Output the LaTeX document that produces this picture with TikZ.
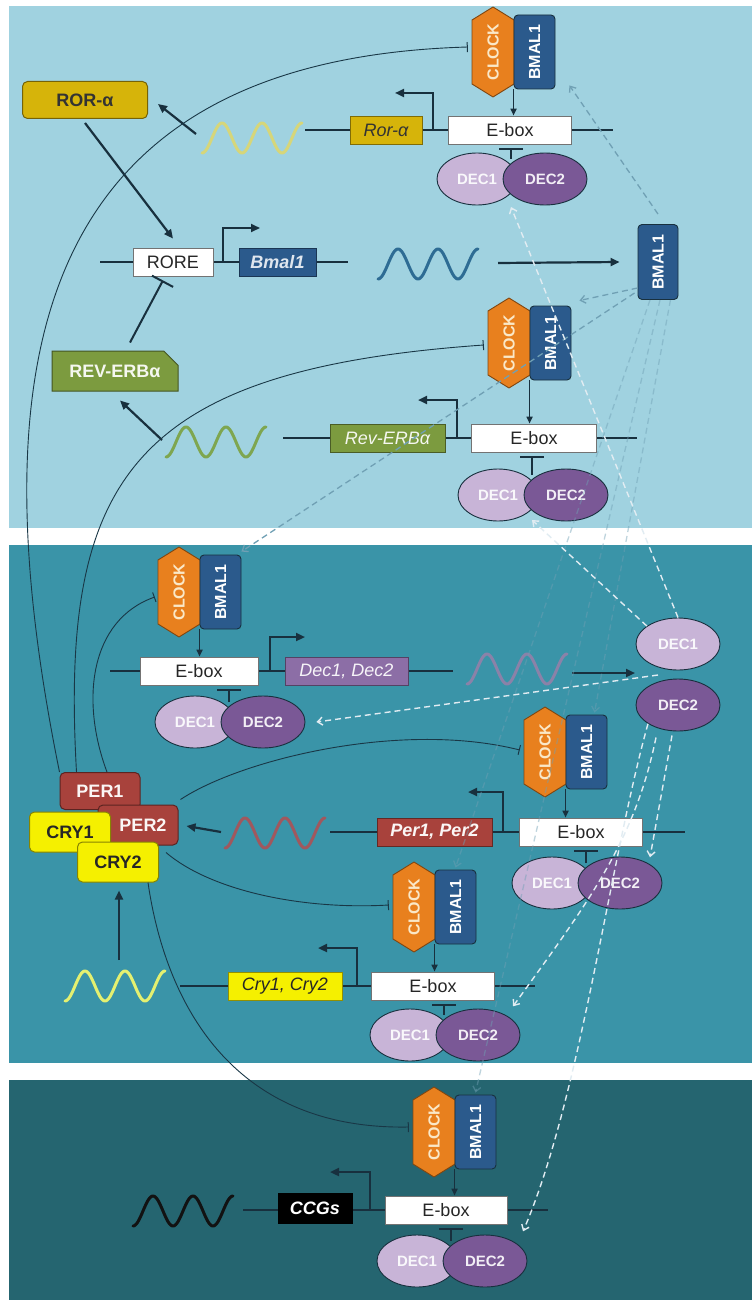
\documentclass[tikz,border=0pt]{standalone}
\usepackage{fontspec}
\setmainfont{Liberation Sans}
\usepackage{graphicx}
\usetikzlibrary{arrows.meta,shapes.geometric,shapes.misc,calc}

\definecolor{bgtop}{RGB}{160,210,224}
\definecolor{bgmid}{RGB}{58,148,168}
\definecolor{bgbot}{RGB}{37,101,112}
\definecolor{navyA}{RGB}{24,48,62}
\definecolor{curv}{RGB}{25,55,70}
\definecolor{clk}{RGB}{232,128,30}
\definecolor{clktxt}{RGB}{250,232,200}
\definecolor{bml}{RGB}{43,90,140}
\definecolor{deca}{RGB}{200,180,215}
\definecolor{decb}{RGB}{122,88,150}
\definecolor{rorcol}{RGB}{214,180,10}
\definecolor{revcol}{RGB}{124,155,63}
\definecolor{percol}{RGB}{168,66,60}
\definecolor{crycol}{RGB}{245,240,0}
\definecolor{deccol}{RGB}{140,110,166}
\definecolor{dashg}{RGB}{112,160,180}
\definecolor{dashw}{RGB}{225,236,242}
\definecolor{wA}{RGB}{214,214,122}
\definecolor{wB}{RGB}{46,108,148}
\definecolor{wC}{RGB}{126,166,80}
\definecolor{wD}{RGB}{138,130,168}
\definecolor{wE}{RGB}{160,88,94}
\definecolor{wF}{RGB}{228,240,112}
\definecolor{wG}{RGB}{18,18,18}

\tikzset{
  ebox/.style={draw=black!55, fill=white, line width=0.8pt, minimum height=28pt, inner sep=0pt, text=black!85, font=\fontsize{18}{18}\selectfont},
  gene/.style 2 args={draw=#1!60!black, fill=#1, line width=0.8pt, minimum height=28pt, inner sep=0pt, text=#2, font=\fontsize{18}{18}\selectfont\itshape},
  prot/.style={draw=#1!55!black, fill=#1, line width=1pt, rounded corners=5pt, inner sep=0pt, font=\fontsize{18}{18}\selectfont\bfseries},
  deconeS/.style={ellipse, draw=navyA, line width=0.9pt, fill=deca, minimum width=80pt, minimum height=52pt, inner sep=0pt, text=white!90!deca, font=\fontsize{15}{15}\selectfont\bfseries},
  dectwoS/.style={deconeS, fill=decb, minimum width=84pt, text=white!90!decb},
  clockshape/.style={fill=clk, draw=clk!55!black, line width=0.9pt, line join=round},
  clocklab/.style={minimum width=42pt, minimum height=90pt, inner sep=0pt, text=clktxt, font=\fontsize{16}{16}\selectfont\bfseries},
  bmalbox/.style={draw=navyA, fill=bml, rounded corners=4pt, line width=0.9pt, minimum width=41pt, minimum height=74pt, inner sep=0pt, text=white, font=\fontsize{16}{16}\selectfont\bfseries},
  dna/.style={draw=navyA, line width=2pt},
  act/.style={draw=navyA, line width=2.2pt, -{Triangle[length=9pt,width=8pt]}},
  sact/.style={draw=navyA, line width=1.6pt, -{Triangle[length=7pt,width=6pt]}},
  inh/.style={draw=navyA, line width=2pt, -{Bar[width=24pt,line width=2pt]}},
  thinh/.style={draw=curv, line width=0.9pt, -{Bar[width=10pt,line width=1pt]}},
  dgrey/.style={draw=dashg, line width=1.3pt, dash pattern=on 6pt off 4pt, -{Straight Barb[length=5pt,width=8pt]}},
  dwhite/.style={draw=dashw, line width=1.4pt, dash pattern=on 6pt off 4pt, -{Straight Barb[length=5pt,width=8pt]}},
  wavest/.style={line width=3pt, line cap=round, line join=round},
}

\newcommand\cbcomplex[3]{%
  \filldraw[clockshape] ({#2+21},#3) -- ({#2+42},{#3+13}) -- ({#2+42},{#3+77}) -- ({#2+21},{#3+90}) -- (#2,{#3+77}) -- (#2,{#3+13}) -- cycle;
  \node[clocklab] (#1c) at ({#2+21},{#3+45}) {\rotatebox{90}{CLOCK}};
  \node[bmalbox] (#1b) at ({#2+62.5},{#3+45}) {\rotatebox{90}{BMAL1}};
}
\newcommand\decpair[4]{%
  \node[deconeS] (#1a) at ({#2-34},#3) {DEC1};
  \node[dectwoS] (#1b) at ({#2+34},#3) {DEC2};
  \coordinate (#1j) at (#2,{#3-20});
  \coordinate (#1t) at ([yshift=-4pt]#4.south);
  \draw[inh] (#1j) -- (#1j |- #1t);
}
\newcommand\wave[3]{%
  \draw[wavest, #3] plot[domain=0:100, samples=90, smooth] ({#1+\x},{#2+15*cos(9*\x)});
}

\begin{document}
\begin{tikzpicture}[x=1pt,y=-1pt]
\useasboundingbox (0,0) rectangle (752,1300);
\fill[white] (0,0) rectangle (752,1300);
\fill[bgtop] (9,6) rectangle (752,528);
\fill[bgmid] (9,545) rectangle (752,1063);
\fill[bgbot] (9,1080) rectangle (752,1300);

% ---------- DNA lines ----------
\draw[dna] (305,130) -- (613,130);
\draw[dna] (100,262) -- (348,262);
\draw[dna] (283,438) -- (637,438);
\draw[dna] (110,671) -- (453,671);
\draw[dna] (330,832) -- (685,832);
\draw[dna] (180,986) -- (535,986);
\draw[dna] (243,1210) -- (548,1210);

% ---------- promoter arrows ----------
\coordinate (pr1) at (433,130); \draw[act] (pr1) -- ++(0,-37) -- ++(-38,0);
\coordinate (pr0) at (223,262); \draw[act] (pr0) -- ++(0,-34) -- ++(37,0);
\coordinate (pr2) at (457,438); \draw[act] (pr2) -- ++(0,-38) -- ++(-39,0);
\coordinate (pr3) at (270,671); \draw[act] (pr3) -- ++(0,-34) -- ++(35,0);
\coordinate (pr4) at (503,832); \draw[act] (pr4) -- ++(0,-40) -- ++(-35,0);
\coordinate (pr5) at (357,986); \draw[act] (pr5) -- ++(0,-38) -- ++(-39,0);
\coordinate (pr6) at (370,1210); \draw[act] (pr6) -- ++(0,-38) -- ++(-40,0);

% ---------- waves ----------
\wave{202}{138}{wA}
\wave{378}{264}{wB}
\wave{166}{442}{wC}
\wave{467}{669}{wD}
\wave{225}{833}{wE}
\wave{65}{986}{wF}
\wave{133}{1211}{wG}

% ---------- gene boxes and E-boxes ----------
\node[gene={rorcol}{black!80}, minimum width=72pt] (g1) at (386,130) {Ror-α};
\node[ebox, minimum width=123pt] (e1) at (510,130) {E-box};
\node[ebox, minimum width=80pt] (rore) at (173,262) {RORE};
\node[gene={bml}{white!85!bml}, minimum width=77pt, font=\fontsize{18}{18}\selectfont\itshape\bfseries] (g0) at (277.5,262) {Bmal1};
\node[gene={revcol}{white!92!revcol}, minimum width=115pt] (g2) at (387.5,438) {Rev-ERBα};
\node[ebox, minimum width=125pt] (e2) at (534,438) {E-box};
\node[ebox, minimum width=118pt] (e3) at (199,671) {E-box};
\node[gene={deccol}{white!92!deccol}, minimum width=123pt] (g3) at (346.5,671) {Dec1, Dec2};
\node[gene={percol}{white!95!percol}, minimum width=115pt, font=\fontsize{18}{18}\selectfont\itshape\bfseries] (g4) at (434.5,832) {Per1, Per2};
\node[ebox, minimum width=123pt] (e4) at (581,832) {E-box};
\node[gene={crycol}{black!85}, minimum width=114pt] (g5) at (285,986) {Cry1, Cry2};
\node[ebox, minimum width=123pt] (e5) at (433,986) {E-box};
\node[gene={black}{white}, minimum width=74pt, minimum height=30pt, font=\fontsize{18}{18}\selectfont\itshape\bfseries] (g6) at (315,1208) {CCGs};
\node[ebox, minimum width=122pt] (e6) at (446,1210) {E-box};

% ---------- CLOCK/BMAL1 complexes ----------
\cbcomplex{k1}{472}{7}
\cbcomplex{k2}{488}{298}
\cbcomplex{k3}{158}{547}
\cbcomplex{k4}{524}{707}
\cbcomplex{k5}{393}{862}
\cbcomplex{k6}{413}{1087}
\draw[sact] (k1b.south west) -- (k1b.south west |- e1.north);
\draw[sact] (k2b.south west) -- (k2b.south west |- e2.north);
\draw[sact] (k3b.south west) -- (k3b.south west |- e3.north);
\draw[sact] (k4b.south west) -- (k4b.south west |- e4.north);
\draw[sact] (k5b.south west) -- (k5b.south west |- e5.north);
\draw[sact] (k6b.south west) -- (k6b.south west |- e6.north);

% ---------- DEC pairs ----------
\decpair{p1}{511}{179}{e1}
\decpair{p2}{532}{495}{e2}
\decpair{p3}{229}{722}{e3}
\decpair{p4}{586}{883}{e4}
\decpair{p5}{444}{1035}{e5}
\decpair{p6}{451}{1261}{e6}

% ---------- proteins ----------
\node[prot=rorcol, text=black!80, minimum width=125pt, minimum height=37pt] (ror) at (85,100) {ROR-α};
\node[chamfered rectangle, chamfered rectangle corners=north east, chamfered rectangle xsep=8pt, chamfered rectangle ysep=8pt, draw=revcol!55!black, fill=revcol, line width=1pt, inner sep=0pt, minimum width=126pt, minimum height=40pt, text=white!92!revcol, font=\fontsize{18}{18}\selectfont\bfseries] (rev) at (115,371) {REV-ERBα};
\node[bmalbox, minimum width=40pt, minimum height=75pt] (bm0) at (658,262) {\rotatebox{90}{BMAL1}};
\node[deconeS, minimum width=84pt] (sd1) at (678,644) {DEC1};
\node[dectwoS] (sd2) at (678,705) {DEC2};

\node[prot=percol, text=white!95!percol, minimum width=80pt, minimum height=37pt] (per1) at (100,791) {PER1};
\node[prot=percol, text=white!95!percol, minimum width=80pt, minimum height=40pt] (per2) at (138,825) {\hspace*{10pt}PER2};
\node[prot=crycol, text=black!85, minimum width=81pt, minimum height=40pt] (cry1) at (70,832) {CRY1};
\node[prot=crycol, text=black!85, minimum width=81pt, minimum height=40pt] (cry2) at (118,862) {CRY2};

% ---------- solid activation / inhibition arrows ----------
\coordinate (w1a) at (196,134);
\draw[act] (w1a) -- ([xshift=10pt,yshift=-4pt]ror.east);
\draw[act] ([yshift=-4pt]ror.south) -- ([yshift=9pt]rore.north);
\draw[inh] ([xshift=15pt,yshift=8pt]rev.north) -- ([xshift=-10pt,yshift=-4pt]rore.south);
\coordinate (w3a) at (162,440);
\draw[act] (w3a) -- ([xshift=5pt,yshift=-9pt]rev.south);
\coordinate (w2a) at (498,263);
\draw[act] (w2a) -- ([xshift=-18pt]bm0.west);
\coordinate (w4a) at (572,673);
\draw[act] (w4a) -- (635,673) coordinate (w4b);
\coordinate (w5a) at (221,832);
\draw[act] (w5a) -- ([xshift=8pt,yshift=-1pt]per2.east);
\coordinate (w6a) at (119,960);
\draw[act] (w6a) -- ([yshift=-8pt]cry2.south -| w6a);

% ---------- thin inhibition curves ----------
\draw[thinh] (per1.north west) .. controls (-20,380) and (20,60) .. ([xshift=-4pt,yshift=5pt]k1c.west);
\draw[thinh] ([xshift=17pt]per1.north west) .. controls (60,480) and (130,370) .. ([xshift=-4pt,yshift=-2pt]k2c.west);
\draw[thinh] ([xshift=7pt]per1.north) .. controls (80,700) and (90,620) .. ([xshift=-3pt,yshift=-5pt]k3c.west);
\draw[thinh] ([xshift=2pt,yshift=5pt]per2.north east) .. controls (240,760) and (400,720) .. ([xshift=-4pt,yshift=2pt]k4c.west);
\draw[thinh] ([xshift=7pt,yshift=-11pt]cry2.north east) .. controls (210,890) and (300,910) .. ([xshift=-4pt,yshift=2pt]k5c.west);
\draw[thinh] ([xshift=30pt]cry2.south) .. controls (165,1000) and (230,1130) .. ([xshift=-4pt,yshift=5pt]k6c.west);

% ---------- dashed links from BMAL1 ----------
\draw[dgrey] ([yshift=10pt]bm0.north) -- ([xshift=14pt,yshift=4pt]k1b.south east);
\draw[dgrey] ([yshift=-26pt]bm0.west) -- ([xshift=8pt,yshift=5pt]k2b.north east);
\draw[dgrey] ([xshift=-3pt,yshift=-31pt]bm0.west) -- ([yshift=3pt]k3b.north east);
\draw[dgrey, opacity=0.45] ([xshift=-8pt]bm0.south east) -- ([xshift=8pt,yshift=2pt]k4b.north);
\draw[dgrey, opacity=0.45] ([xshift=-8pt]bm0.south) -- ([yshift=2pt]k5b.north);
\draw[dgrey, opacity=0.45] ([xshift=2pt]bm0.south) -- ([yshift=2pt]k6b.north);

% ---------- dashed links from DEC1 / DEC2 ----------
\coordinate (q1) at (511,207);
\draw[dwhite] (sd1.north) -- (q1);
\coordinate (q2) at (532,520);
\draw[dwhite] (sd1.150) -- (q2);
\coordinate (s3) at (658,675);
\draw[dwhite] (s3) -- ([xshift=11pt]p3b.east);
\draw[dwhite] ([xshift=-6pt,yshift=-4pt]sd2.south) -- ([yshift=7pt]p4b.north east);
\draw[dwhite] ([xshift=-22pt,yshift=-6pt]sd2.south) .. controls (635,840) and (590,900) .. ([xshift=5pt,yshift=10pt]p5b.north east);
\draw[dwhite] (sd2.south west) .. controls (610,860) and (580,1100) .. ([xshift=8pt,yshift=11pt]p6b.north east);

\end{tikzpicture}
\end{document}
